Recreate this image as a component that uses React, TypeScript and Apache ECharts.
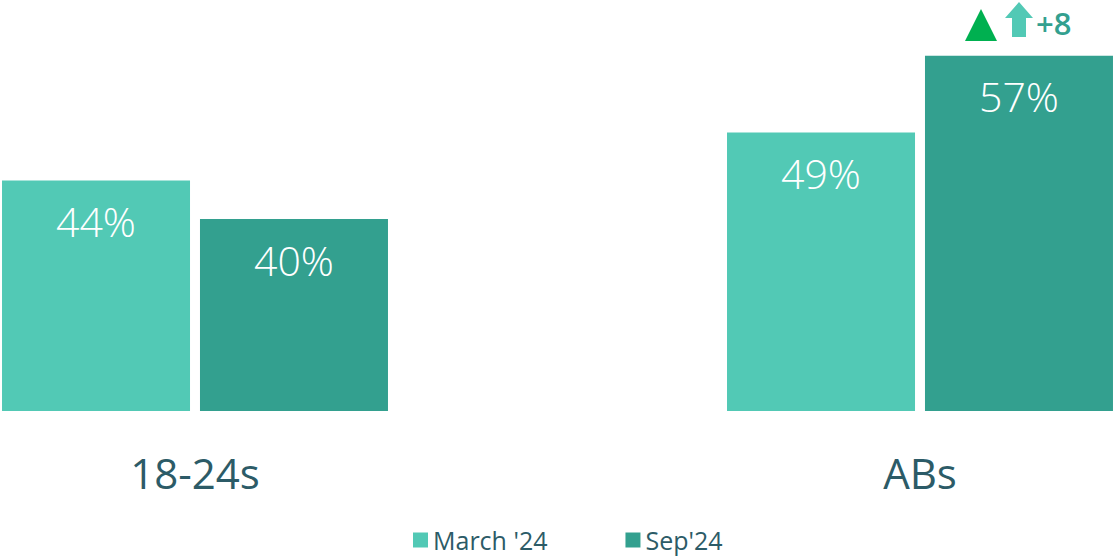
import React, { useEffect, useRef } from "react";
import * as echarts from "echarts";

const categories = ["18-24s", "ABs"];
const seriesNames = ["March '24", "Sep'24"];
const march24 = [44, 49];
const sep24 = [40, 57];
const changeLabel = "+8";

const COLOR_MARCH = "#52C9B5";
const COLOR_SEP = "#33A08F";
const TEXT_COLOR = "#2C5B67";
const FONT = "'Open Sans', 'Noto Sans', sans-serif";

export default function App() {
  const ref = useRef<HTMLDivElement>(null);
  useEffect(() => {
    if (!ref.current) return;
    const chart = echarts.init(ref.current, undefined, { renderer: "svg" });
    const label = {
      show: true,
      position: "insideTop" as const,
      distance: 20,
      color: "#ffffff",
      fontSize: 41,
      fontWeight: 300 as any,
      fontFamily: FONT,
      formatter: (p: any) => p.value + "%",
    };
    chart.setOption({
      animation: false,
      textStyle: { fontFamily: FONT },
      grid: { left: 195, right: 195, top: 27, bottom: 147, containLabel: false },
      legend: {
        data: seriesNames,
        left: 409,
        bottom: 4,
        padding: [0, 4, 0, 4],
        itemWidth: 15,
        itemHeight: 15,
        itemGap: 78,
        icon: "rect",
        textStyle: { color: TEXT_COLOR, fontSize: 25, lineHeight: 28, fontFamily: FONT },
      },
      xAxis: {
        type: "category",
        data: categories,
        boundaryGap: false,
        axisLine: { show: false },
        axisTick: { show: false },
        axisLabel: { color: TEXT_COLOR, fontSize: 42, fontFamily: FONT, margin: 40 },
      },
      yAxis: {
        type: "value",
        min: 20,
        max: 60,
        show: false,
        splitLine: { show: false },
      },
      series: [
        {
          name: seriesNames[0],
          type: "bar",
          data: march24,
          barWidth: 188,
          barGap: "5.3%",
          itemStyle: { color: COLOR_MARCH },
          label,
        },
        {
          name: seriesNames[1],
          type: "bar",
          data: sep24,
          barWidth: 188,
          barGap: "5.3%",
          itemStyle: { color: COLOR_SEP },
          label,
        },
      ],
      graphic: [
        {
          type: "polygon",
          shape: { points: [[965, 41], [981, 9], [997, 41]] },
          style: { fill: "#00B050" },
        },
        {
          type: "polygon",
          shape: {
            points: [
              [1005, 18], [1019, 2], [1033, 18], [1026, 18],
              [1026, 37], [1012, 37], [1012, 18],
            ],
          },
          style: { fill: COLOR_MARCH },
        },
        {
          type: "text",
          x: 1036,
          y: 23,
          style: {
            text: changeLabel,
            fill: COLOR_SEP,
            fontSize: 31,
            fontWeight: 600,
            fontFamily: FONT,
            verticalAlign: "middle",
            align: "left",
          },
        },
      ],
    });
    return () => chart.dispose();
  }, []);
  return (
    <div
      ref={ref}
      style={{ position: "fixed", left: 0, top: 0, width: 1115, height: 558, background: "#fff" }}
    />
  );
}
